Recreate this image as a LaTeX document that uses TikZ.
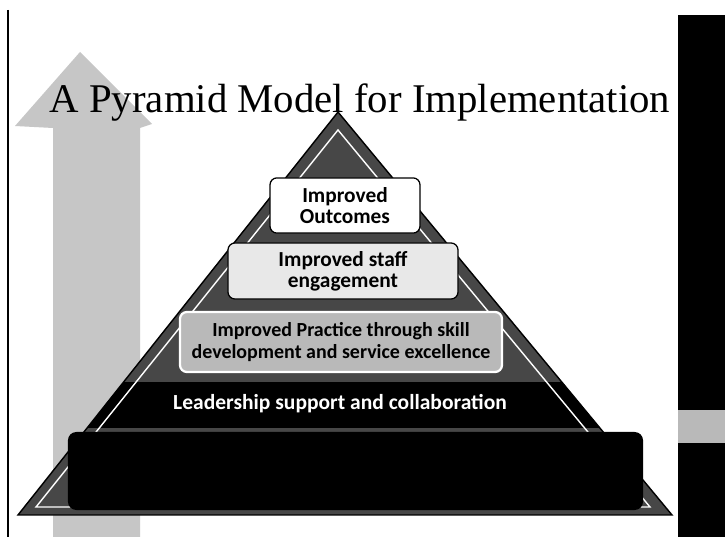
\documentclass[tikz,border=0pt]{standalone}
\usepackage{fontspec}
\setmainfont{Liberation Serif}
\newfontfamily\boxfont{Carlito}
\usetikzlibrary{positioning}

\begin{document}
\begin{tikzpicture}[x=0.025cm, y=-0.025cm,
    tier/.style={draw=black, line width=0.9pt, rounded corners=5pt, align=center,
      font=\boxfont\bfseries\fontsize{15.2}{15}\selectfont, inner sep=2pt},
    slab/.style={fill=black, rounded corners=6pt}]
  \useasboundingbox[fill=white] (0,0) rectangle (725,537);
  \draw[line width=1pt] (8,10) -- (8,537);
  \fill[black] (678,15) rectangle (725,537);
  \fill[gray!55] (678,410) rectangle (725,443);
  \fill[gray!45] (80,52) -- (152,124) -- (140,128) -- (140,537) -- (53,537)
    -- (53,128) -- (15,126) -- cycle;
  \filldraw[fill=black!72, draw=black, line width=1pt] (338,112) -- (672,515) -- (18,515) -- cycle;
  \begin{scope}
    \clip (338,112) -- (672,515) -- (18,515) -- cycle;
    \fill[black] (0,382) rectangle (725,428);
  \end{scope}
  \draw[white, line width=1pt] (338,130) -- (650,507) -- (36,507) -- cycle;
  \node[font=\fontsize{29}{29}\selectfont, anchor=base] (TITLE) at (360,113)
    {A Pyramid Model for Implementation};
  \node[tier, fill=white, minimum width=3.75cm, minimum height=1.38cm] (OUT) at (345,205.5)
    {Improved\\Outcomes};
  \node[tier, fill=gray!18, minimum width=5.75cm, minimum height=1.4cm] (STAFF) at (343,271)
    {Improved staff\\engagement};
  \node[tier, draw=white, line width=1.6pt, fill=gray!55, minimum width=8.05cm, minimum height=1.5cm,
    font=\boxfont\bfseries\fontsize{14.2}{15.5}\selectfont] (PRAC) at (341,342)
    {Improved Practice through skill\\development and service excellence};
  \node[text=white, font=\boxfont\bfseries\fontsize{15.3}{15}\selectfont] (LEAD) at (340,404)
    {Leadership support and collaboration};
  \node[slab, minimum width=14.375cm, minimum height=1.95cm] (BASE) at (355.5,471) {};
\end{tikzpicture}
\end{document}
